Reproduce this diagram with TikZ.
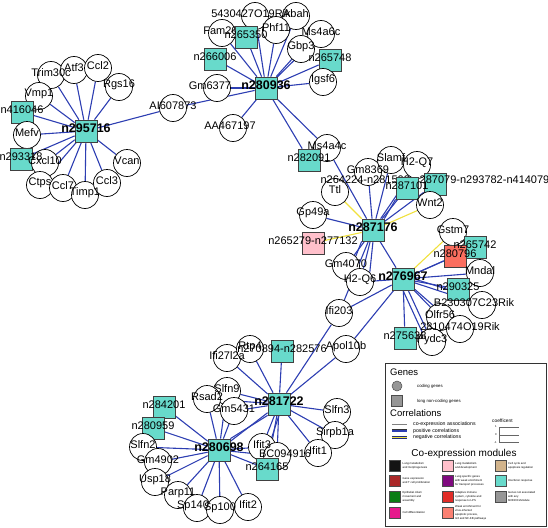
\documentclass[tikz,border=0pt]{standalone}
\usepackage{fontspec}
\setmainfont{Liberation Sans}
\usetikzlibrary{backgrounds}
\pgfdeclarelayer{fg}
\pgfsetlayers{background,main,fg}
\definecolor{turq}{RGB}{104,218,203}
\definecolor{eblue}{RGB}{45,62,178}
\definecolor{eyel}{RGB}{240,225,60}
\definecolor{pinkc}{RGB}{255,192,203}
\definecolor{salm}{RGB}{250,110,95}
\definecolor{mblack}{RGB}{20,20,20}
\definecolor{mbrown}{RGB}{170,40,40}
\definecolor{mgreen}{RGB}{10,125,20}
\definecolor{mmag}{RGB}{230,25,140}
\definecolor{mpink}{RGB}{255,192,203}
\definecolor{mpurple}{RGB}{128,10,128}
\definecolor{mred}{RGB}{225,45,40}
\definecolor{msalm}{RGB}{250,128,114}
\definecolor{mtan}{RGB}{210,180,140}
\definecolor{mgrey}{RGB}{150,150,150}
\tikzset{
  gene/.style={circle,draw=black,fill=white,minimum size=27pt,inner sep=0pt,line width=0.7pt},
  lnc/.style={rectangle,draw=black!75,fill=turq,minimum size=22pt,inner sep=0pt,line width=0.7pt},
  lab/.style={font=\fontsize{11}{11}\selectfont,inner sep=0pt,yshift=2pt},
  hublab/.style={font=\bfseries\fontsize{12.5}{12.5}\selectfont,inner sep=0pt,yshift=3pt},
  posedge/.style={eblue,line width=1.1pt},
  negedge/.style={eyel,line width=1.1pt},
  modbox/.style={rectangle,draw=black!70,minimum size=11pt,inner sep=0pt,line width=0.5pt},
  modtxt/.style={anchor=west,align=left,inner sep=0pt,font=\fontsize{2.8}{4}\selectfont},
  legtxt/.style={anchor=west,inner sep=0pt},
}
\newcommand{\gnode}[4][]{\node[gene] (#2) at (#3) {};\begin{pgfonlayer}{fg}\node[lab,#1] at (#2) {#4};\end{pgfonlayer}}
\newcommand{\lnode}[4][]{\node[lnc,#1] (#2) at (#3) {};\begin{pgfonlayer}{fg}\node[lab] at (#2) {#4};\end{pgfonlayer}}
\newcommand{\hnode}[3]{\node[lnc] (#1) at (#2) {};\begin{pgfonlayer}{fg}\node[hublab] at (#1) {#3};\end{pgfonlayer}}
\begin{document}
\begin{tikzpicture}[x=1pt,y=-1pt]
\useasboundingbox (0,0) rectangle (548,527);
% ---------- cluster 1
\gnode{trim}{51,75}{Trim30c}
\gnode{atf}{74,70}{Atf3}
\gnode{ccl2}{98,68}{Ccl2}
\gnode{rgs}{119,87}{Rgs16}
\gnode{vmp}{39,96}{Vmp1}
\lnode{s416}{22,112}{n416046}
\gnode{mefv}{27,135}{Mefv}
\lnode{s293}{21,159}{n293318}
\gnode{cxcl}{45,163}{Cxcl10}
\gnode{ctps}{40,185}{Ctps}
\gnode{ccl7}{63,188}{Ccl7}
\gnode{timp}{85,195}{Timp1}
\gnode{ccl3}{107,183}{Ccl3}
\gnode{vcan}{127,163}{Vcan}
\gnode{ai60}{173,108}{AI607873}
\hnode{h1}{86,131}{n295716}
% ---------- cluster 2
\gnode[xshift=-4pt]{rik54}{255,16}{5430427O19Rik}
\gnode{abah}{296,16}{Abah}
\node[gene,label={[lab]center:Fam26f}] (fam) at (222,33) {};
\gnode{phf}{276,30}{Phf11}
\lnode{s265350}{246,37}{n265350}
\gnode{ms6c}{321,34}{Ms4a6c}
\gnode{gbp}{301,49}{Gbp3}
\lnode{s265748}{330,60}{n265748}
\lnode{s266006}{215,59}{n266006}
\gnode{igsf}{323,82}{Igsf6}
\gnode[xshift=-7pt]{gm63}{217,88}{Gm6377}
\gnode[xshift=-3pt]{aa46}{233,128}{AA467197}
\hnode{h2}{266,88}{n280936}
% ---------- cluster 3
\gnode{ms4c}{327,148}{Ms4a4c}
\lnode{s282091}{309,160}{n282091}
\gnode{gm83}{368,172}{Gm8369}
\gnode{slam}{391,160}{Slamf}
\gnode{h2q7}{417,165}{H2-Q7}
\gnode{ttl}{335,192}{Ttl}
\node[lnc] (big) at (435,184) {};
\node[lab] (biglab) at (435,182) {n264224-n281509-n287079-n293782-n414079};
\lnode{s287101}{407,188}{n287101}
\gnode{wnt}{430,205}{Wnt2}
\gnode{gp49}{313,215}{Gp49a}
\lnode[fill=pinkc]{pink}{313,243}{n265279-n277132}
\gnode{gm40}{346,266}{Gm4070}
\gnode{h2q6}{360,282}{H2-Q6}
\hnode{h3}{373,230}{n287176}
\gnode{gstm}{453,232}{Gstm7}
\lnode{s265742}{475,247}{n265742}
\lnode[fill=salm]{s280796}{455,256}{n280796}
\gnode{mndal}{480,273}{Mndal}
\lnode{s290325}{458,289}{n290325}
\gnode[xshift=-8pt]{b23}{482,305}{B230307C23Rik}
\gnode{olfr}{440,317}{Olfr56}
\gnode{rik28}{460,329}{2810474O19Rik}
\gnode{pydc}{432,342}{Pydc3}
\lnode{s275638}{405,338}{n275638}
\gnode{ifi203}{339,313}{Ifi203}
\gnode{apol}{346,349}{Apol10b}
\hnode{h4}{403,279}{n276967}
% ---------- cluster 4
\gnode{ifi27}{227,358}{Ifi27l2a}
\gnode{rtp}{250,349}{Rtp4}
\lnode{s270894}{282,351}{n270894-n282576}
\gnode{slfn9}{227,391}{Slfn9}
\gnode{rsad}{207,399}{Rsad2}
\gnode{gm54}{234,411}{Gm5431}
\gnode{slfn3}{337,412}{Slfn3}
\gnode{sirp}{335,435}{Sirpb1a}
\gnode{ifit1}{318,453}{Ifit1}
\gnode{ifit3}{262,447}{Ifit3}
\gnode[xshift=8pt]{bc09}{277,456}{BC094916}
\lnode{s264165}{267,469}{n264165}
\lnode{s284201}{164,407}{n284201}
\lnode{s280959}{153,428}{n280959}
\gnode{slfn2}{143,447}{Slfn2}
\gnode{gm49}{158,462}{Gm4902}
\gnode{usp}{155,482}{Usp18}
\gnode{parp}{178,495}{Parp11}
\gnode[xshift=-4pt]{sp140}{197,508}{Sp140}
\gnode{sp100}{220,510}{Sp100}
\gnode{ifit2}{248,507}{Ifit2}
\hnode{h5}{279,404}{n281722}
\hnode{h6}{219,450}{n280698}
% ---------- edges
\begin{pgfonlayer}{background}
\foreach \b in {trim,atf,ccl2,rgs,vmp,s416,mefv,s293,cxcl,ctps,ccl7,timp,ccl3,vcan,ai60}
  \draw[posedge] (h1) -- (\b);
\foreach \b in {ai60,rik54,abah,fam,s265350,phf,ms6c,gbp,s265748,s266006,igsf,gm63,aa46,ms4c,s282091}
  \draw[posedge] (h2) -- (\b);
\foreach \b in {ms4c,gm83,slam,h2q7,s287101,big,gp49,gm40,h2q6,h4,ifi203}
  \draw[posedge] (h3) -- (\b);
\draw[posedge] (h3.north east) -- (s287101.south west);
\draw[posedge] (h3.south) -- (h2q6.north east);
\draw[posedge] (h3.south west) -- (gm40.north east);
\foreach \b in {ttl,wnt,pink}
  \draw[negedge] (h3) -- (\b);
\foreach \b in {h2q6,ifi203,apol,s275638,pydc,olfr,rik28,b23,s290325,mndal,s280796,s265742}
  \draw[posedge] (h4) -- (\b);
\draw[posedge] (h4.east) -- (s290325.west);
\draw[posedge] (h4.south) -- (pydc.north west);
\draw[negedge] (h4) -- (gstm);
\foreach \b in {ifi27,rtp,s270894,ifi203,apol,slfn9,gm54,rsad,slfn3,sirp,ifit1,ifit3,bc09,s264165,h6}
  \draw[posedge] (h5) -- (\b);
\draw[posedge] (h5.south west) -- (h6.north east);
\draw[posedge] (h5.south) -- (ifit3.north east);
\foreach \b in {s284201,s280959,slfn2,gm49,usp,parp,sp140,sp100,ifit2,rsad,slfn9,gm54,ifit3,s264165,bc09}
  \draw[posedge] (h6) -- (\b);
\end{pgfonlayer}
% ---------- legend
\begin{pgfonlayer}{fg}
\draw[black!80,line width=0.8pt,fill=white] (385,363) rectangle (546,526);
\node[legtxt,font=\fontsize{9.5}{9.5}\selectfont] at (390,372) {Genes};
\node[circle,draw=black!70,fill=mgrey,minimum size=10pt,inner sep=0pt,line width=0.5pt] (lgc) at (397,386) {};
\node[legtxt,font=\fontsize{4.3}{4.3}\selectfont] at (417,386) {coding genes};
\node[rectangle,draw=black!70,fill=mgrey,minimum size=11pt,inner sep=0pt,line width=0.5pt] (lgs) at (397,401) {};
\node[legtxt,font=\fontsize{4.3}{4.3}\selectfont] at (417,401.5) {long non-coding genes};
\node[legtxt,font=\fontsize{9.5}{9.5}\selectfont] at (390,413.5) {Correlations};
\draw[black!50,line width=0.5pt] (392,424.3) -- (407,424.3);
\draw[black!80,line width=2.8pt] (392,430.7) -- (407,430.7);
\draw[eblue,line width=2pt] (392,430.7) -- (407,430.7);
\draw[eblue!70!black,line width=3pt] (392,437.3) -- (407,437.3);
\draw[eyel,line width=1.6pt] (392,437.3) -- (407,437.3);
\node[legtxt,font=\fontsize{5.2}{5.2}\selectfont] at (413,424.3) {co-expression associations};
\node[legtxt,font=\fontsize{5.2}{5.2}\selectfont] at (413,430.7) {positive correlations};
\node[legtxt,font=\fontsize{5.2}{5.2}\selectfont] at (413,437.3) {negative correlations};
\node[legtxt,font=\fontsize{4.8}{4.8}\selectfont] at (492,420.7) {coefficent};
\draw[black!60,line width=0.4pt] (499.3,427) -- (499.3,442.7);
\draw[black!60,line width=0.4pt] (499.3,427) -- (519.3,427);
\draw[black!60,line width=0.6pt] (499.3,435) -- (519.3,435);
\draw[black!60,line width=0.8pt] (499.3,442.7) -- (519.3,442.7);
\node[inner sep=0pt,font=\fontsize{2.8}{2.8}\selectfont] at (496,427) {1};
\node[inner sep=0pt,font=\fontsize{2.8}{2.8}\selectfont] at (496,435) {0};
\node[inner sep=0pt,font=\fontsize{2.8}{2.8}\selectfont] at (495.5,443) {-1};
\node[inner sep=0pt,font=\fontsize{10}{10}\selectfont] at (464,453.5) {Co-expression modules};
\node[modbox,fill=mblack] at (395,465.7) {};
\node[modtxt] at (402.5,465.7) {Lung metabolism\\and morphogenesis};
\node[modbox,fill=mbrown] at (395,480.7) {};
\node[modtxt] at (402.5,480.7) {Gene expression\\and T cell proliferation};
\node[modbox,fill=mgreen] at (395,496.7) {};
\node[modtxt] at (402.5,496.7) {Epithelial cilium\\movement and\\assembly};
\node[modbox,fill=mmag] at (395,512.3) {};
\node[modtxt] at (402.5,512.3) {Cell differentiation};
\node[modbox,fill=mpink] at (447.5,465.7) {};
\node[modtxt] at (455,465.7) {Lung metabolism\\and development};
\node[modbox,fill=mpurple] at (447.5,480.7) {};
\node[modtxt] at (455,480.7) {Lung specific genes\\with weak enrichment\\for transport processes};
\node[modbox,fill=mred] at (447.5,496.7) {};
\node[modtxt] at (455,496.7) {Adaptive immune\\system, cytokine and\\response to LPS};
\node[modbox,fill=msalm] at (447.5,512.3) {};
\node[modtxt] at (455,512.3) {Weak enrichment for\\virus-infected\\apoptotic process,\\IL6 and NF-KB pathways};
\node[modbox,fill=mtan] at (501,465.7) {};
\node[modtxt] at (508,465.7) {Cell cycle and\\apoptosis regulation};
\node[modbox,fill=turq] at (501,480.7) {};
\node[modtxt] at (508,480.7) {Interferon response};
\node[modbox,fill=mgrey] at (501,496.7) {};
\node[modtxt] at (508,496.7) {Genes not associated\\with any\\MONOCLModule};
\end{pgfonlayer}
\end{tikzpicture}
\end{document}
